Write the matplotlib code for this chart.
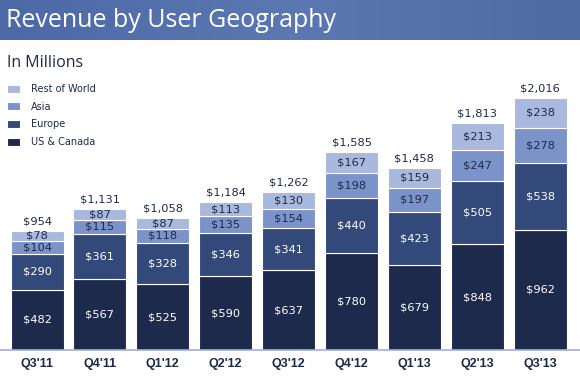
import matplotlib
matplotlib.use("Agg")
import matplotlib.pyplot as plt
import numpy as np
from matplotlib.colors import LinearSegmentedColormap

quarters = ["Q3'11", "Q4'11", "Q1'12", "Q2'12", "Q3'12", "Q4'12", "Q1'13", "Q2'13", "Q3'13"]
us_canada = [482, 567, 525, 590, 637, 780, 679, 848, 962]
europe = [290, 361, 328, 346, 341, 440, 423, 505, 538]
asia = [104, 115, 118, 135, 154, 198, 197, 247, 278]
rest = [78, 87, 87, 113, 130, 167, 159, 213, 238]
totals = [954, 1131, 1058, 1184, 1262, 1585, 1458, 1813, 2016]

series_names = ["US & Canada", "Europe", "Asia", "Rest of World"]
series = [us_canada, europe, asia, rest]
colors = ["#1e2a4c", "#33497a", "#7b93c9", "#a9b9dd"]
label_colors = ["white", "white", "#1e2a4c", "#1e2a4c"]

W, H = 580, 381
fig = plt.figure(figsize=(W / 100, H / 100), dpi=100)

# title bar gradient
tax = fig.add_axes([0, 1 - 40 / H, 1, 40 / H])
grad = np.linspace(0, 1, 256).reshape(1, -1)
cmap = LinearSegmentedColormap.from_list("g", ["#4d69a6", "#5b78b2", "#4f6ba6"])
tax.imshow(grad, aspect="auto", cmap=cmap, extent=[0, 1, 0, 1])
tax.set_axis_off()
tax.text(0.01, 0.48, "Revenue by User Geography", color="white", fontsize=18,
         family="Open Sans", va="center", ha="left", transform=tax.transAxes)

fig.text(7 / W, 1 - 63 / H, "In Millions", fontsize=11.5, color="#1e2a4c",
         family="Open Sans", va="center", ha="left")

# main axes
top_px, base_px = 40, 350
ax = fig.add_axes([0, 1 - base_px / H, 1, (base_px - top_px) / H])
scale = 0.125  # px per million
ax.set_ylim(0, (base_px - top_px) / scale)
x0, dx = 37, 62.9
ax.set_xlim(-x0 / dx, (W - x0) / dx)
x = np.arange(len(quarters))
bw = 53 / dx

bottom = np.zeros(len(quarters))
bars = []
for vals, c, lc, name in zip(series, colors, label_colors, series_names):
    b = ax.bar(x, vals, bw, bottom=bottom, color=c, edgecolor="white", linewidth=0.8, label=name)
    bars.append(b)
    for xi, v, bt in zip(x, vals, bottom):
        ax.text(xi, bt + v / 2, f"${v:,}", ha="center", va="center", color=lc,
                fontsize=8.2, family="DejaVu Sans")
    bottom += np.array(vals)

for xi, t, bt in zip(x, totals, bottom):
    ax.text(xi, bt + 35, f"${t:,}", ha="center", va="bottom", color="#1e2a4c",
            fontsize=8.2, family="DejaVu Sans")

for s in ["top", "right", "left"]:
    ax.spines[s].set_visible(False)
ax.spines["bottom"].set_color("#9fb2d8")
ax.spines["bottom"].set_linewidth(1.2)
ax.set_yticks([])
ax.set_xticks(x)
ax.set_xticklabels(quarters, fontsize=9, fontweight="bold", color="#1e2a4c",
                   family="Liberation Sans")
ax.tick_params(axis="x", length=0, pad=6)
ax.patch.set_alpha(0)

# legend
handles = bars[::-1]
leg = ax.legend(handles, series_names[::-1], loc="upper left",
                bbox_to_anchor=(3 / W, 1 - 40 / (base_px - top_px)), frameon=False,
                fontsize=7, handlelength=1.3, handleheight=0.9, labelspacing=0.8,
                handletextpad=1.2, borderaxespad=0)
for t in leg.get_texts():
    t.set_color("#1e2a4c")

fig.savefig("out.png", dpi=100)
